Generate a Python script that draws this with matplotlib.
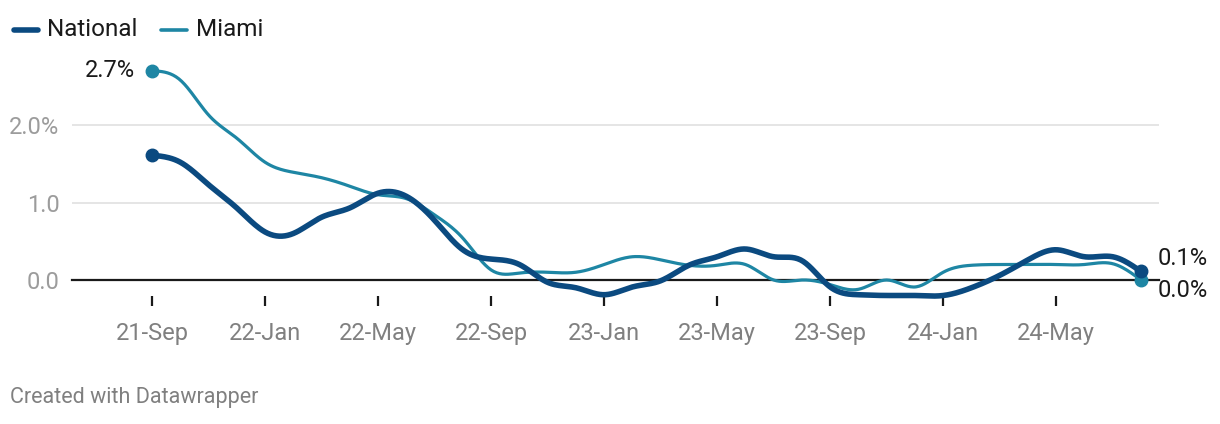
#!/usr/bin/env python3
# -*- coding: utf-8 -*-

import numpy as np
import matplotlib
matplotlib.use("Agg")
import matplotlib.pyplot as plt
from matplotlib.lines import Line2D

plt.rcParams["font.family"] = ["Roboto", "DejaVu Sans"]

# ===== データ（月次, 2021-09 〜 2024-08）=====
months = list(range(36))
tick_pos = [0, 4, 8, 12, 16, 20, 24, 28, 32]
tick_labels = ["21-Sep", "22-Jan", "22-May", "22-Sep", "23-Jan",
               "23-May", "23-Sep", "24-Jan", "24-May"]

national = [1.61, 1.52, 1.23, 0.93, 0.62, 0.60, 0.81, 0.93, 1.12, 1.08,
            0.77, 0.39, 0.27, 0.20, -0.03, -0.10, -0.19, -0.09, -0.01, 0.19,
            0.30, 0.40, 0.30, 0.25, -0.09, -0.19, -0.20, -0.20, -0.20, -0.10,
            0.06, 0.26, 0.39, 0.30, 0.30, 0.11]
miami = [2.70, 2.58, 2.13, 1.83, 1.52, 1.39, 1.32, 1.21, 1.10, 1.05,
         0.84, 0.54, 0.13, 0.09, 0.10, 0.10, 0.20, 0.30, 0.26, 0.19,
         0.19, 0.20, 0.00, 0.00, -0.06, -0.12, 0.00, -0.09, 0.10, 0.19,
         0.20, 0.20, 0.20, 0.20, 0.21, 0.00]

C_NAT = "#0b4a80"
C_MIA = "#1e86a4"
GREY = "#808080"
LGREY = "#9c9c9c"
INK = "#1a1a1a"


def natural_spline(x, y, n=20):
    # 自然3次スプライン（描画用の補間）
    x = np.asarray(x, float)
    y = np.asarray(y, float)
    k = len(x)
    h = np.diff(x)
    A = np.zeros((k, k))
    b = np.zeros(k)
    A[0, 0] = A[-1, -1] = 1
    for i in range(1, k - 1):
        A[i, i - 1] = h[i - 1]
        A[i, i] = 2 * (h[i - 1] + h[i])
        A[i, i + 1] = h[i]
        b[i] = 6 * ((y[i + 1] - y[i]) / h[i] - (y[i] - y[i - 1]) / h[i - 1])
    M = np.linalg.solve(A, b)
    xs, ys = [], []
    for i in range(k - 1):
        t = np.linspace(x[i], x[i + 1], n, endpoint=False)
        a = x[i + 1] - t
        c = t - x[i]
        s = (M[i] * a**3 + M[i + 1] * c**3) / (6 * h[i]) \
            + (y[i] / h[i] - M[i] * h[i] / 6) * a \
            + (y[i + 1] / h[i] - M[i + 1] * h[i] / 6) * c
        xs.append(t)
        ys.append(s)
    xs.append([x[-1]])
    ys.append([y[-1]])
    return np.concatenate(xs), np.concatenate(ys)


# ===== 描画 =====
fig = plt.figure(figsize=(12.2, 4.24), dpi=100)
W, H = 1220, 424
ax = fig.add_axes([72 / W, 1 - 296 / H, (1159 - 72) / W, (296 - 60) / H])

px_per_month = (1141 - 152) / 35
ax.set_xlim(-(152 - 72) / px_per_month, (1159 - 152) / px_per_month)
ax.set_ylim(-(296 - 280) / 77.5, (280 - 60) / 77.5)

for v in [1.0, 2.0]:
    ax.axhline(v, color="#e3e3e3", lw=1.3, zorder=0)
ax.axhline(0, color=INK, lw=1.6, zorder=1, clip_on=False)

xs, ys = natural_spline(months, miami)
ax.plot(xs, ys, color=C_MIA, lw=2.3, solid_capstyle="round", zorder=2, clip_on=False)
xs, ys = natural_spline(months, national)
ax.plot(xs, ys, color=C_NAT, lw=4.0, solid_capstyle="round", zorder=3, clip_on=False)

for s, c in [(miami, C_MIA), (national, C_NAT)]:
    ax.plot([months[0], months[-1]], [s[0], s[-1]], "o", color=c, ms=9,
            zorder=4, clip_on=False)

# 端ラベル
ax.text(months[0] - 0.6, miami[0], f"{miami[0]:.1f}%", ha="right", va="center",
        fontsize=17, color=INK)
ax.text(months[-1] + 0.6, 0.28, f"{national[-1]:.1f}%", ha="left", va="center",
        fontsize=17, color=INK)
ax.text(months[-1] + 0.6, -0.14, f"{miami[-1]:.1f}%", ha="left", va="center",
        fontsize=17, color=INK)

# 軸
for sp in ax.spines.values():
    sp.set_visible(False)
ax.set_xticks(tick_pos)
ax.set_xticklabels(tick_labels)
ax.tick_params(axis="x", length=7, width=1.6, color=INK, labelcolor=GREY,
               labelsize=17, pad=12)
ax.set_yticks([0, 1, 2])
ax.set_yticklabels(["0.0", "1.0", "2.0%"])
ax.tick_params(axis="y", length=0, labelcolor=LGREY, labelsize=17, pad=9)

# 凡例（手描き）
ly = 1 - 30 / H
fig.add_artist(Line2D([14 / W, 38 / W], [ly, ly], color=C_NAT, lw=4.0,
                      solid_capstyle="round"))
fig.text(47 / W, ly, "National", ha="left", va="center", fontsize=17.5, color=INK)
fig.add_artist(Line2D([161 / W, 187 / W], [ly, ly], color=C_MIA, lw=2.6,
                      solid_capstyle="round"))
fig.text(196 / W, ly, "Miami", ha="left", va="center", fontsize=17.5, color=INK)

fig.text(10 / W, 1 - 398 / H, "Created with Datawrapper", ha="left", va="center",
         fontsize=15.5, color=GREY)

plt.savefig("out.png", dpi=100)
plt.close()
